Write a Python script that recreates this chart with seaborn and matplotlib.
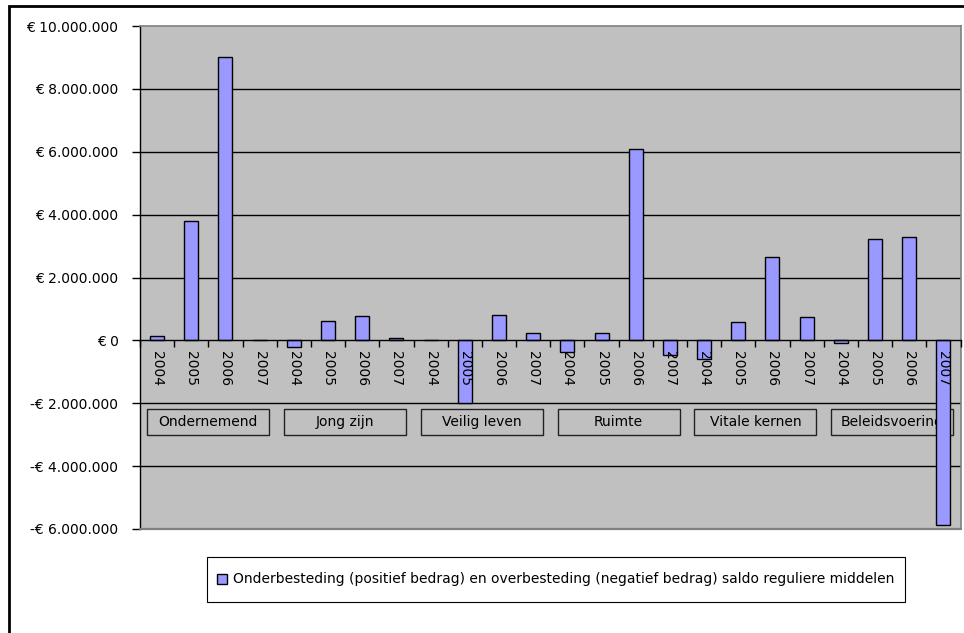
import matplotlib
matplotlib.use("Agg")
import matplotlib.pyplot as plt
import seaborn as sns
import pandas as pd
from matplotlib.patches import Rectangle
from matplotlib.ticker import FixedLocator, FuncFormatter

# --- data -------------------------------------------------------------
themes = ["Ondernemend", "Jong zijn", "Veilig leven", "Ruimte",
          "Vitale kernen", "Beleidsvoering"]
years = ["2004", "2005", "2006", "2007"]
saldo = [
    140_000, 3_790_000, 9_000_000, 0,           # Ondernemend
    -220_000, 610_000, 760_000, 60_000,         # Jong zijn
    0, -1_990_000, 820_000, 220_000,            # Veilig leven
    -370_000, 220_000, 6_100_000, -460_000,     # Ruimte
    -580_000, 580_000, 2_660_000, 730_000,      # Vitale kernen
    -90_000, 3_210_000, 3_300_000, -5_880_000,  # Beleidsvoering
]
y_ticks = [10_000_000, 8_000_000, 6_000_000, 4_000_000, 2_000_000, 0,
           -2_000_000, -4_000_000, -6_000_000]
series_label = ("Onderbesteding (positief bedrag) en overbesteding "
                "(negatief bedrag) saldo reguliere middelen")

df = pd.DataFrame({
    "thema": [t for t in themes for _ in years],
    "jaar": [y for _ in themes for y in years],
    "saldo": saldo,
})
df["key"] = df["thema"] + " " + df["jaar"]

# --- styling ----------------------------------------------------------
sns.set_theme(style="white")
plt.rcParams["font.family"] = ["DejaVu Sans"]
plt.rcParams["text.color"] = "black"

BAR = "#9999FF"
BG = "#C0C0C0"
BORDER = "#808080"
FS = 10

fig = plt.figure(figsize=(9.64, 6.33), dpi=100)
ax = fig.add_axes([140 / 964, 1 - 529 / 633, 820.5 / 964, 503 / 633])
ax.set_facecolor(BG)

sns.barplot(data=df, x="key", y="saldo", order=list(df["key"]),
            color=BAR, edgecolor="black", linewidth=1.0, width=0.41,
            saturation=1, ax=ax, zorder=3)

n = len(df)
ax.set_xlim(-0.5, n - 0.5)
ax.set_ylim(min(y_ticks), max(y_ticks))

# horizontal gridlines
for v in y_ticks[1:-1]:
    if v != 0:
        ax.axhline(v, color="black", lw=1.0, zorder=1)

# spines: grey frame, black value axis, category axis at zero
for s in ("top", "right"):
    ax.spines[s].set_color(BORDER)
    ax.spines[s].set_linewidth(1.2)
ax.spines["left"].set_color("black")
ax.spines["left"].set_linewidth(1.0)
ax.spines["bottom"].set_position(("data", 0))
ax.spines["bottom"].set_color("black")
ax.spines["bottom"].set_linewidth(1.0)
ax.spines["bottom"].set_zorder(4)
ax.plot([0, 1], [0, 0], transform=ax.transAxes, color=BORDER, lw=1.6,
        clip_on=False, zorder=5)

# value axis
ax.yaxis.set_major_locator(FixedLocator(y_ticks))


def euro(v, _pos=None):
    s = f"{abs(int(v)):,}".replace(",", ".")
    return ("-€ " if v < 0 else "€ ") + s


ax.yaxis.set_major_formatter(FuncFormatter(euro))
ax.tick_params(axis="y", which="major", direction="out", length=6,
               width=1, color="black", pad=9.5, labelsize=FS,
               labelcolor="black", left=True)

# category axis: tick marks between bars, year labels under each bar
ax.xaxis.set_major_locator(FixedLocator([i - 0.5 for i in range(n + 1)]))
ax.xaxis.set_major_formatter(FuncFormatter(lambda v, p: ""))
ax.set_xticks(range(n), labels=list(df["jaar"]), minor=True)
ax.tick_params(axis="x", which="major", direction="out", length=5,
               width=1, color="black", bottom=True)
ax.tick_params(axis="x", which="minor", length=0, pad=8, labelsize=FS,
               labelrotation=-90, labelcolor="black")
ax.xaxis.set_zorder(6)
ax.set_xlabel("")
ax.set_ylabel("")

# theme boxes below the year labels
box_w = 3.57
box_top, box_bot = -2_190_000, -3_020_000
for gi, thema in enumerate(themes):
    cx = gi * len(years) + (len(years) - 1) / 2
    ax.add_patch(Rectangle((cx - box_w / 2, box_bot), box_w, box_top - box_bot,
                           facecolor="none", edgecolor="#222222", lw=1.0,
                           zorder=2))
    ax.text(cx, (box_top + box_bot) / 2, thema, ha="center", va="center",
            fontsize=FS, color="black", zorder=2)

# legend with its own frame
fig.add_artist(Rectangle((207 / 964, 1 - 602 / 633), 698 / 964, 45 / 633,
                         transform=fig.transFigure, facecolor="white",
                         edgecolor="black", lw=0.8))
handle = Rectangle((0, 0), 1, 1, facecolor=BAR, edgecolor="black", lw=1.0)
leg = fig.legend([handle], [series_label], loc="center left",
                 bbox_to_anchor=(217 / 964, 1 - 579.5 / 633),
                 frameon=False, fontsize=10.0, handlelength=0.7,
                 handleheight=0.7, handletextpad=0.45, borderpad=0,
                 borderaxespad=0)
for t in leg.get_texts():
    t.set_color("black")

# outer chart frame
fig.add_artist(Rectangle((9 / 964, -0.1), 1.2, 1.1 - 5.5 / 633,
                         transform=fig.transFigure, facecolor="none",
                         edgecolor="black", lw=2.0))

fig.savefig("out.png", dpi=100)
